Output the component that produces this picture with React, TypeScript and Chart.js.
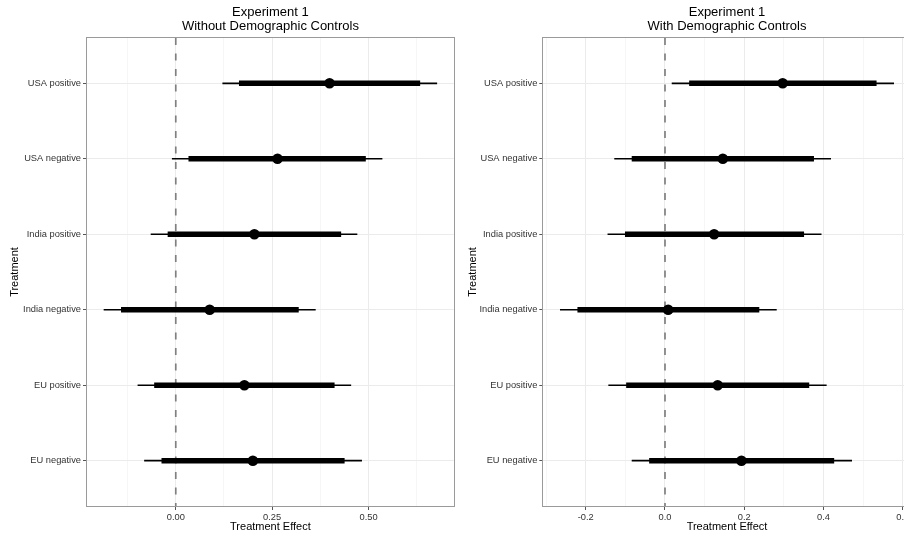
import React, { useEffect, useRef } from 'react';
import { Chart, registerables } from 'chart.js';

Chart.register(...registerables);
Chart.defaults.font.family = '"Liberation Sans", Arial, Helvetica, sans-serif';

// ---- data ----
const categories = ['USA positive', 'USA negative', 'India positive', 'India negative', 'EU positive', 'EU negative'];

// Without demographic controls
const leftEstimate = [0.399, 0.264, 0.204, 0.088, 0.178, 0.200];
const leftLow90 = [0.164, 0.033, -0.021, -0.142, -0.056, -0.037];
const leftHigh90 = [0.634, 0.493, 0.429, 0.319, 0.412, 0.438];
const leftLow95 = [0.121, -0.010, -0.065, -0.187, -0.099, -0.082];
const leftHigh95 = [0.678, 0.536, 0.471, 0.363, 0.455, 0.483];

// With demographic controls
const rightEstimate = [0.297, 0.146, 0.124, 0.008, 0.133, 0.193];
const rightLow90 = [0.061, -0.084, -0.101, -0.221, -0.098, -0.040];
const rightHigh90 = [0.534, 0.376, 0.351, 0.238, 0.364, 0.427];
const rightLow95 = [0.017, -0.128, -0.145, -0.265, -0.143, -0.084];
const rightHigh95 = [0.578, 0.419, 0.395, 0.282, 0.408, 0.472];

const leftTickValues = [0, 0.25, 0.5];
const leftTickLabels = ['0.00', '0.25', '0.50'];
const rightTickValues = [-0.2, 0, 0.2, 0.4, 0.6];
const rightTickLabels = ['-0.2', '0.0', '0.2', '0.4', '0.6'];

const leftTitle = ['Experiment 1', 'Without Demographic Controls'];
const rightTitle = ['Experiment 1', 'With Demographic Controls'];
const xAxisTitle = 'Treatment Effect';
const yAxisTitle = 'Treatment';
const zeroLine = 0;

interface PanelSpec {
  title: string[];
  est: number[];
  lo90: number[];
  hi90: number[];
  lo95: number[];
  hi95: number[];
  tickValues: number[];
  tickLabels: string[];
  yAxisWidth: number;
  padRight: number;
}

const panelBorder = {
  id: 'panelBorder',
  afterDatasetsDraw(chart: any) {
    const { ctx, chartArea } = chart;
    const { left, top, right, bottom } = chartArea;
    ctx.save();
    ctx.strokeStyle = '#9a9a9a';
    ctx.lineWidth = 1;
    ctx.strokeRect(Math.round(left) - 0.5, Math.round(top) - 0.5, Math.round(right - left) + 1, Math.round(bottom - top) + 1);
    ctx.restore();
  },
};

function makeChart(canvas: HTMLCanvasElement, spec: PanelSpec) {
  const n = spec.est.length;
  const yMin = 0.4;
  const yMax = n + 0.6;
  const all = [...spec.lo95, ...spec.hi95];
  const dMin = Math.min(...all);
  const dMax = Math.max(...all);
  const span = dMax - dMin;
  const xMin = dMin - 0.05 * span;
  const xMax = dMax + 0.05 * span;
  const step = spec.tickValues[1] - spec.tickValues[0];
  const minor: number[] = [];
  for (let i = -1; i < spec.tickValues.length; i++) {
    const v = spec.tickValues[0] + (i + 0.5) * step;
    if (v > xMin && v < xMax) minor.push(v);
  }
  const majorIndex = (v: number) => spec.tickValues.findIndex((t) => Math.abs(t - v) < 1e-9);
  const xTicks = [...spec.tickValues, ...minor].sort((a, b) => a - b);
  const yTicks = categories.map((_, i) => i + 1);

  const datasets: any[] = [
    {
      label: 'estimate',
      data: spec.est.map((v, i) => ({ x: v, y: i + 1 })),
      showLine: false,
      pointRadius: 5.3,
      pointHoverRadius: 5.3,
      pointBackgroundColor: '#000',
      pointBorderWidth: 0,
      order: 0,
    },
    ...spec.est.map((_, i) => ({
      label: 'ci90-' + i,
      data: [{ x: spec.lo90[i], y: i + 1 }, { x: spec.hi90[i], y: i + 1 }],
      showLine: true,
      borderColor: '#000',
      borderWidth: 5.5,
      pointRadius: 0,
      order: 1,
    })),
    ...spec.est.map((_, i) => ({
      label: 'ci95-' + i,
      data: [{ x: spec.lo95[i], y: i + 1 }, { x: spec.hi95[i], y: i + 1 }],
      showLine: true,
      borderColor: '#000',
      borderWidth: 1.7,
      pointRadius: 0,
      order: 2,
    })),
    {
      label: 'zero',
      data: [{ x: zeroLine, y: yMin }, { x: zeroLine, y: yMax }],
      showLine: true,
      borderColor: '#808080',
      borderWidth: 1.7,
      borderDash: [7, 8.5],
      pointRadius: 0,
      order: 3,
    },
  ];

  return new Chart(canvas, {
    type: 'scatter',
    data: { datasets },
    plugins: [panelBorder],
    options: {
      responsive: false,
      animation: false,
      events: [],
      layout: { padding: { left: 0, top: 0, bottom: 0, right: spec.padRight } },
      plugins: {
        legend: { display: false },
        tooltip: { enabled: false },
        title: {
          display: true,
          text: spec.title,
          color: '#000',
          fullSize: false,
          font: { size: 13, weight: 'normal', lineHeight: 14.5 / 13 },
          padding: { top: 5, bottom: 4 },
        },
      },
      scales: {
        x: {
          type: 'linear',
          min: xMin,
          max: xMax,
          bounds: 'data',
          afterBuildTicks: (axis: any) => {
            axis.ticks = xTicks.map((v) => ({ value: v }));
          },
          afterFit: (scale: any) => {
            scale.height = 29;
          },
          ticks: {
            autoSkip: false,
            maxRotation: 0,
            padding: 1.5,
            color: '#333',
            font: { size: 9.3 },
            callback: (v: any) => {
              const idx = majorIndex(Number(v));
              return idx >= 0 ? spec.tickLabels[idx] : '';
            },
          },
          grid: {
            color: (ctx: any) => (ctx.tick && majorIndex(ctx.tick.value) >= 0 ? '#ebebeb' : '#f6f6f6'),
            tickColor: (ctx: any) => (ctx.tick && majorIndex(ctx.tick.value) >= 0 ? '#555' : 'rgba(0,0,0,0)'),
            tickLength: 4,
            lineWidth: 1,
          },
          border: { display: false },
          title: {
            display: true,
            text: xAxisTitle,
            color: '#000',
            font: { size: 11 },
            padding: { top: 0, bottom: 1.5 },
          },
        },
        y: {
          type: 'linear',
          reverse: true,
          min: yMin,
          max: yMax,
          bounds: 'data',
          afterBuildTicks: (axis: any) => {
            axis.ticks = yTicks.map((v) => ({ value: v }));
          },
          afterFit: (scale: any) => {
            scale.width = spec.yAxisWidth;
          },
          ticks: {
            autoSkip: false,
            padding: 2,
            color: '#333',
            font: { size: 9.3 },
            callback: (v: any) => categories[Math.round(Number(v)) - 1] ?? '',
          },
          grid: {
            color: '#ebebeb',
            tickColor: '#555',
            tickLength: 4,
            lineWidth: 1,
          },
          border: { display: false },
          title: {
            display: true,
            text: yAxisTitle,
            color: '#000',
            font: { size: 11 },
            padding: { top: 8, bottom: 0 },
          },
        },
      },
    } as any,
  });
}

const leftSpec: PanelSpec = {
  title: leftTitle,
  est: leftEstimate,
  lo90: leftLow90,
  hi90: leftHigh90,
  lo95: leftLow95,
  hi95: leftHigh95,
  tickValues: leftTickValues,
  tickLabels: leftTickLabels,
  yAxisWidth: 87,
  padRight: 6.2,
};

const rightSpec: PanelSpec = {
  title: rightTitle,
  est: rightEstimate,
  lo90: rightLow90,
  hi90: rightHigh90,
  lo95: rightLow95,
  hi95: rightHigh95,
  tickValues: rightTickValues,
  tickLabels: rightTickLabels,
  yAxisWidth: 85.3,
  padRight: 5,
};

export default function App() {
  const leftRef = useRef<HTMLCanvasElement>(null);
  const rightRef = useRef<HTMLCanvasElement>(null);

  useEffect(() => {
    const a = makeChart(leftRef.current as HTMLCanvasElement, leftSpec);
    const b = makeChart(rightRef.current as HTMLCanvasElement, rightSpec);
    return () => {
      a.destroy();
      b.destroy();
    };
  }, []);

  return (
    <div style={{ position: 'fixed', left: 0, top: 0, width: 904, height: 535, overflow: 'hidden', background: '#fff' }}>
      <canvas ref={leftRef} width={460} height={535} style={{ position: 'absolute', left: 0, top: 0, width: 460, height: 535 }} />
      <canvas ref={rightRef} width={458} height={535} style={{ position: 'absolute', left: 458, top: 0, width: 458, height: 535 }} />
    </div>
  );
}
